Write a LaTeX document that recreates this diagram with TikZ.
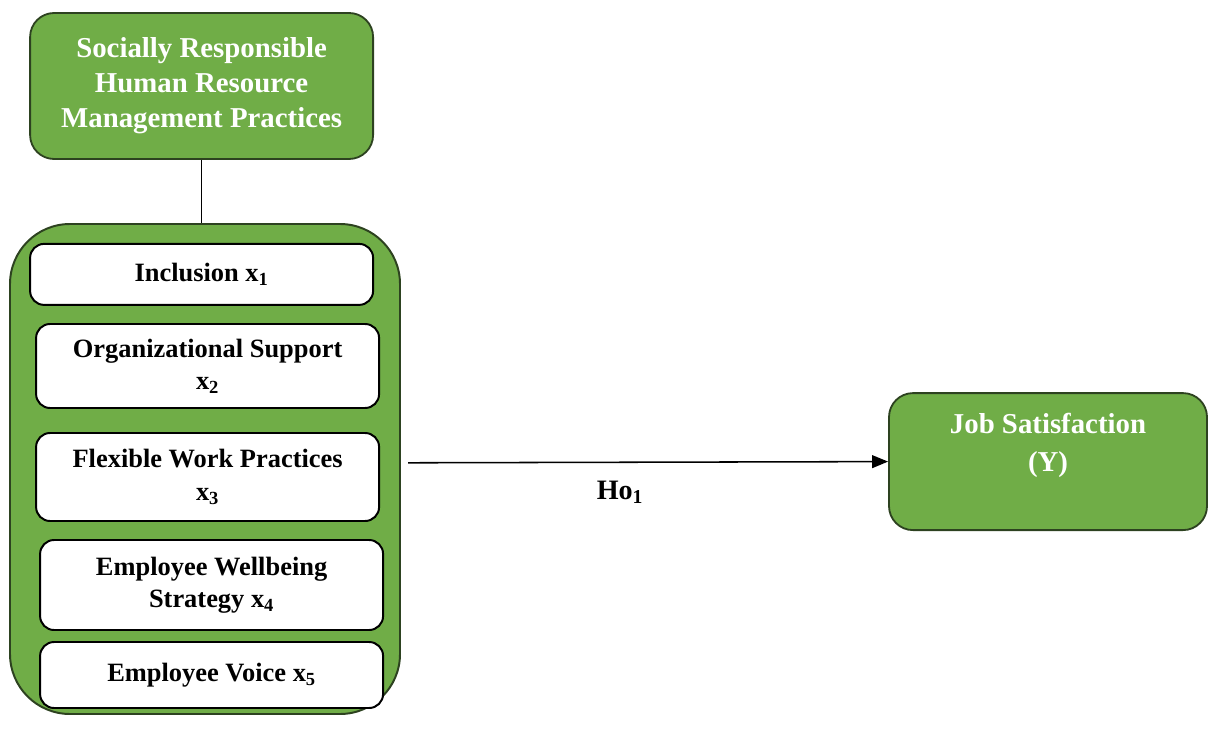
\documentclass[tikz,border=0pt]{standalone}
\usepackage{fontspec}
\setmainfont{Liberation Serif}
\usetikzlibrary{positioning, calc, arrows.meta}
\definecolor{boxGreen}{RGB}{112,173,71}
\definecolor{edgeGreen}{RGB}{45,66,32}

\begin{document}
\begin{tikzpicture}[
  >={Triangle[length=4mm, width=3.2mm]},
  constructNode/.style ={rectangle, rounded corners=6mm, draw=edgeGreen, fill=boxGreen, line width=1.3pt, text=white, align=center, font=\bfseries\fontsize{20.5}{25}\selectfont},
  groupNode/.style     ={rectangle, rounded corners=15mm, draw=edgeGreen, fill=boxGreen, line width=1.4pt, minimum width=9.75cm, minimum height=12.25cm},
  itemNode/.style      ={rectangle, rounded corners=3.5mm, draw=black, fill=white, line width=1.4pt, minimum width=8.575cm, align=center, font=\bfseries\fontsize{18.8}{23}\selectfont},
  arrow/.style         ={->, line width=1.1pt},
  plainLine/.style     ={line width=0.6pt}
]
\useasboundingbox (0,0) rectangle (30.2,-18.225);

% ================== INDEPENDENT CONSTRUCT ==================
\node[constructNode, minimum width=8.575cm, minimum height=3.65cm] (SRHRM) at (5.04,-2.15) {Socially Responsible\\Human Resource\\Management Practices};

% ================== DIMENSIONS (GROUP) ==================
\node[groupNode] (DIMS) at (5.125,-11.725) {};

\node[itemNode, minimum height=1.525cm] (INCL) at (5.04,-6.86)  {Inclusion x\textsubscript{1}};
\node[itemNode, minimum height=2.1cm]   (ORG)  at (5.19,-9.15)  {Organizational Support\\x\textsubscript{2}};
\node[itemNode, minimum height=2.2cm]   (FLEX) at (5.19,-11.925) {Flexible Work Practices\\x\textsubscript{3}};
\node[itemNode, minimum height=2.25cm]  (WELL) at (5.29,-14.625) {Employee Wellbeing\\Strategy x\textsubscript{4}};
\node[itemNode, minimum height=1.65cm]  (VOICE) at (5.29,-16.875) {Employee Voice x\textsubscript{5}};

\draw[plainLine] (SRHRM.south) -- (SRHRM.south |- DIMS.north);

% ================== DEPENDENT CONSTRUCT ==================
\node[constructNode, minimum width=7.95cm, minimum height=3.425cm,
      label={[text=white, font=\bfseries\fontsize{20.5}{27}\selectfont, align=center, yshift=4mm]center:Job Satisfaction\\(Y)}] (JOB) at (26.2,-11.54) {};

% hypothesis path
\coordinate (pathStart) at (10.2,-11.57);
\draw[arrow] (pathStart) -- (JOB.west);
\node[font=\bfseries\fontsize{20}{24}\selectfont] (HO) at (15.5,-12.3) {Ho\textsubscript{1}};

\end{tikzpicture}
\end{document}
